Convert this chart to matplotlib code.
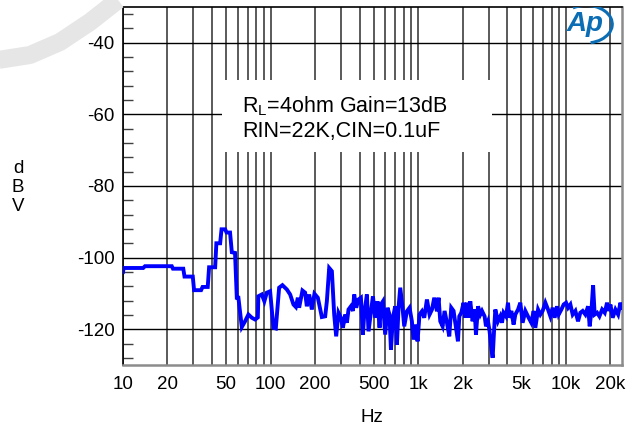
import numpy as np
import matplotlib
matplotlib.use("Agg")
import matplotlib.pyplot as plt
from matplotlib.ticker import FixedLocator, MultipleLocator, NullFormatter
from matplotlib.patches import Rectangle, Arc

plt.rcParams['font.family'] = ['Liberation Sans', 'DejaVu Sans']
plt.rcParams['mathtext.fontset'] = 'custom'
plt.rcParams['mathtext.rm'] = 'Liberation Sans'
plt.rcParams['axes.unicode_minus'] = False

# noise spectrum (Hz, dBV)
freq = [10, 10.1, 13.7, 14.1, 21.4, 21.8, 25.6, 26.1, 29.7, 30.3, 33.8, 34.6,
        37.5, 38.3, 42.1, 42.9, 45.5, 46.5, 49.2, 50.3, 53.1, 54.6, 57.4, 59.0,
        60.5, 63.8, 67.1, 70.7, 74.6, 78.5, 81.9, 82.6, 87.1, 90.7, 94.2, 99.2,
        104.5, 108.4, 114.2, 120.2, 128.8, 135.6, 142.8, 148.2, 152.9, 156.0,
        164.3, 171.3, 175.9, 182.4, 190.2, 198.1, 208.8, 222.3, 234.2, 240.4,
        249.3, 260.0, 269.5, 278.0, 288.2, 299.2, 308.7, 319.9, 328.6, 337.0,
        349.8, 360.9, 368.3, 379.9, 393.8, 408.9, 421.8, 430.5, 448.8, 460.4,
        477.7, 493.2, 511.1, 529.7, 547.0, 558.5, 576.8, 597.0, 619.4, 638.3,
        653.1, 673.8, 698.2, 717.1, 735.2, 755.1, 782.7, 803.5, 837.5, 873.0,
        905.8, 929.0, 968.5, 989, 1020, 1059, 1098, 1145, 1193, 1239, 1284,
        1339, 1373, 1410, 1462, 1508, 1565, 1622, 1673, 1735, 1801, 1858, 1897,
        1957, 2028, 2083, 2138, 2193, 2251, 2334, 2409, 2460, 2541, 2633, 2704,
        2815, 2877, 2968, 3043, 3126, 3191, 3261, 3327, 3468, 3597, 3692, 3784,
        3930, 4055, 4141, 4272, 4426, 4546, 4742, 4914, 5094, 5314, 5595, 5834,
        6049, 6210, 6479, 6714, 6960, 7261, 7570, 7852, 8136, 8395, 8714, 8938,
        9322, 9662, 10030, 10350, 10730, 11120, 11600, 12090, 12530, 13000,
        13550, 14140, 14500, 14890, 15290, 15670, 16280, 16870, 17600, 18330,
        19010, 19500, 20030, 20760, 21660, 22590, 23420, 24000]
level = [-104.0, -102.9, -102.9, -102.4, -102.4, -103.1, -103.1, -105.3, -105.3,
         -109.1, -109.1, -108.2, -108.2, -102.7, -102.7, -96.0, -96.0, -92.1,
         -92.1, -93.0, -93.0, -98.5, -98.7, -111.2, -111.2, -119.4, -117.8,
         -115.9, -116.8, -117.3, -116.7, -110.8, -110.3, -112.2, -109.8, -109.4,
         -119.6, -119.8, -108.4, -107.7, -108.9, -110.3, -113.1, -113.8, -111.2,
         -114.0, -109.2, -109.8, -113.6, -110.3, -114.5, -110.1, -111.2, -116.6,
         -116.4, -112.2, -102.9, -103.8, -115.9, -122.0, -115.4, -116.8, -119.6,
         -115.9, -118.2, -114.5, -113.6, -114.9, -110.3, -114.0, -111.7, -111.2,
         -121.5, -115.9, -110.3, -120.6, -115.4, -110.8, -116.8, -112.2, -119.6,
         -113.1, -112.2, -121.5, -114.0, -115.9, -125.7, -116.8, -113.6, -124.3,
         -114.0, -108.4, -114.0, -119.2, -115.0, -114.0, -117.8, -122.9, -118.7,
         -123.4, -115.9, -115.0, -116.8, -111.7, -115.9, -114.5, -111.2, -115.0,
         -111.2, -117.8, -119.2, -114.9, -118.2, -122.0, -114.0, -114.9, -119.6,
         -123.4, -116.4, -115.4, -112.6, -116.8, -112.6, -116.8, -112.2, -117.8,
         -114.5, -121.5, -113.6, -115.9, -114.9, -116.4, -119.2, -117.8, -120.6,
         -125.2, -128.0, -120.6, -114.5, -117.8, -116.4, -118.2, -115.4, -116.4,
         -112.6, -116.8, -114.9, -118.7, -115.9, -114.5, -112.6, -118.2, -114.9,
         -116.8, -118.2, -114.9, -119.6, -114.5, -115.9, -114.9, -112.6, -114.5,
         -116.4, -114.0, -116.8, -113.6, -115.9, -114.5, -113.1, -112.6, -114.0,
         -113.1, -115.9, -114.9, -117.8, -115.4, -114.9, -115.9, -113.6, -119.2,
         -114.9, -107.7, -115.9, -115.4, -116.4, -114.5, -115.4, -112.6, -114.9,
         -113.1, -116.8, -114.5, -115.9, -112.6, -114.0]

xticks = [10, 20, 50, 100, 200, 500, 1000, 2000, 5000, 10000, 20000]
xlabels = ['10', '20', '50', '100', '200', '500', '1k', '2k', '5k', '10k', '20k']
yticks = [-40, -60, -80, -100, -120]

fig = plt.figure(figsize=(6.33, 4.30), dpi=100)

# light grey watermark stroke in the top-left corner
fig.lines.append(plt.Line2D([-2 / 633, 30 / 633, 60 / 633, 90 / 633, 118 / 633],
                            [1 - 60 / 430, 1 - 55 / 430, 1 - 42 / 430, 1 - 22 / 430, 1.0],
                            transform=fig.transFigure, color='#e6e6e6', lw=13,
                            solid_capstyle='butt', zorder=0))

ax = fig.add_axes([123 / 633, 1 - 365 / 430, 499 / 633, 358 / 430])
ax.set_xscale('log')
ax.set_xlim(10, 24000)
ax.set_ylim(-130, -30)

# vertical grid at every 1..9 step of each decade
vgrid = [m * 10 ** d for d in range(1, 5) for m in range(1, 10) if m * 10 ** d <= 24000]
for v in vgrid:
    ax.axvline(v, color='0.3', lw=1.3, zorder=1)
for t in yticks:
    ax.axhline(t, color='black', lw=1.0, zorder=1)

ax.xaxis.set_major_locator(FixedLocator(xticks))
ax.set_xticklabels(xlabels)
ax.xaxis.set_minor_formatter(NullFormatter())
ax.tick_params(axis='x', which='both', length=0, labelsize=13.5, pad=8)
ax.yaxis.set_major_locator(FixedLocator(yticks))
ax.yaxis.set_minor_locator(MultipleLocator(4))
ax.tick_params(axis='y', which='major', length=0, labelsize=13.5, pad=6)
ax.tick_params(axis='y', which='minor', direction='in', length=7, width=1.0, color='0.25')

for side in ['left', 'top']:
    ax.spines[side].set_color('black')
    ax.spines[side].set_linewidth(1.2)
for side in ['right', 'bottom']:
    ax.spines[side].set_color('0.55')
    ax.spines[side].set_linewidth(1.8)

ax.plot(freq, level, color='#0000ff', lw=2.8, zorder=3, solid_joinstyle='miter')

# white label box over the grid
ax.add_patch(Rectangle((0.198, 0.595), 0.5415, 0.201, transform=ax.transAxes,
                       facecolor='white', edgecolor='none', zorder=2))
ax.text(0.2385, 0.7235, r'R$_\mathrm{L}$=4ohm Gain=13dB', transform=ax.transAxes,
        fontsize=15.5, va='center', ha='left', zorder=4)
ax.text(0.2385, 0.6536, 'RIN=22K,CIN=0.1uF', transform=ax.transAxes,
        fontsize=15.5, va='center', ha='left', zorder=4)

# Ap logo
ax.text(0.925, 0.952, 'Ap', transform=ax.transAxes, fontsize=20, fontweight='bold',
        style='italic', color='#0b6db4', ha='center', va='center', zorder=5)
ax.add_patch(Arc((0.928, 0.952), 0.105, 0.105, theta1=-80, theta2=120,
                 transform=ax.transAxes, color='#0b6db4', lw=2.2, zorder=5))

fig.text(18 / 633, 1 - 187.5 / 430, 'd\nB\nV', ha='center', va='center',
         fontsize=13.5, linespacing=1.15)
fig.text(372 / 633, 1 - 418 / 430, 'Hz', ha='center', va='center', fontsize=13.5)

plt.savefig('out.png', dpi=100)
